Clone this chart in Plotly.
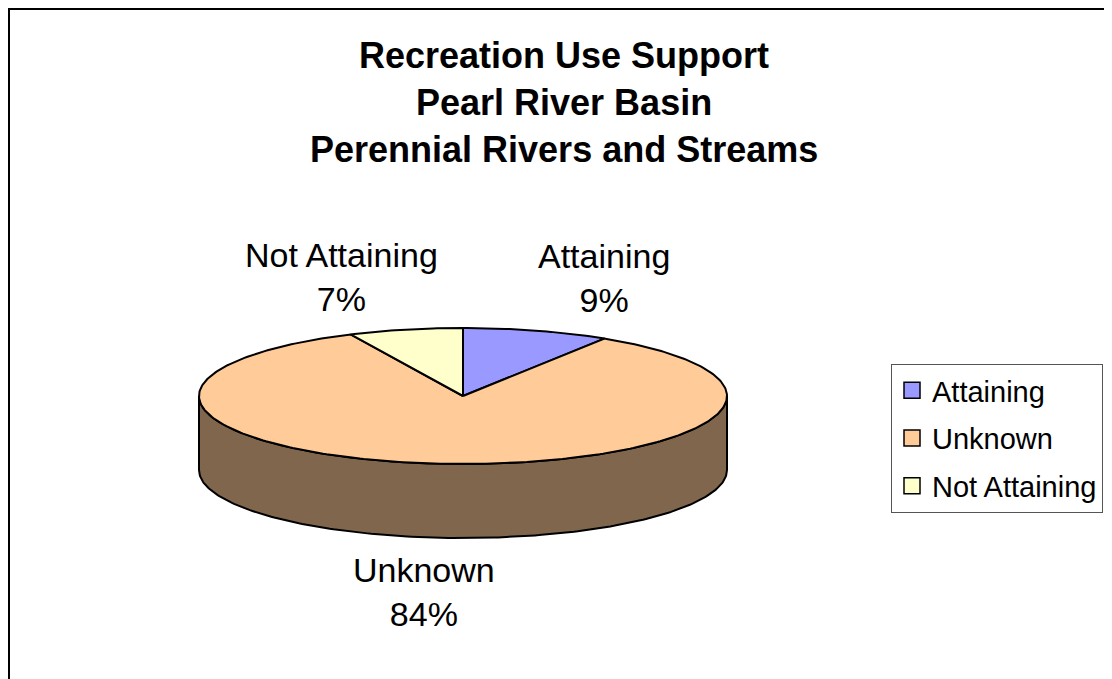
import numpy as np
import plotly.graph_objects as go

# ---- data ----
categories = ["Attaining", "Unknown", "Not Attaining"]
values = [9, 84, 7]
colors = ["#9999FF", "#FFCC99", "#FFFFCC"]
title_lines = ["Recreation Use Support", "Pearl River Basin", "Perennial Rivers and Streams"]

# ---- geometry / style (pixel-unit axes; page body has an 8px margin) ----
W, H = 1112, 679
OFF = 8
CX, CY, RX, RY, DEPTH = 463, 396, 264, 68, 74
FONT = "Liberation Sans, Arial, sans-serif"


def darken(hexcol, f=0.5):
    h = hexcol.lstrip("#")
    r, g, b = (int(h[i:i + 2], 16) for i in (0, 2, 4))
    return "rgb({},{},{})".format(int(r * f), int(g * f), int(b * f))


def arc(t0, t1, n=None):
    if n is None:
        n = max(8, int(abs(t1 - t0) / (2 * np.pi) * 400))
    t = np.linspace(t0, t1, n)
    return CX + RX * np.sin(t), CY - RY * np.cos(t)


vals = np.array(values, dtype=float)
frac = vals / vals.sum()
ends = np.cumsum(frac) * 2 * np.pi
starts = ends - frac * 2 * np.pi

fig = go.Figure()

# side walls (front half only)
for i, cat in enumerate(categories):
    lo = max(starts[i], np.pi / 2)
    hi = min(ends[i], 3 * np.pi / 2)
    if lo < hi:
        xt, yt = arc(lo, hi)
        xs = np.concatenate([xt, xt[::-1], xt[:1]])
        ys = np.concatenate([yt, (yt + DEPTH)[::-1], yt[:1]])
        fig.add_trace(go.Scatter(x=xs, y=ys, mode="lines", fill="toself",
                                 fillcolor=darken(colors[i]),
                                 line=dict(color="black", width=2),
                                 hoverinfo="skip", showlegend=False))

# top faces
for i, cat in enumerate(categories):
    xt, yt = arc(starts[i], ends[i])
    xs = np.concatenate([[CX], xt, [CX]])
    ys = np.concatenate([[CY], yt, [CY]])
    fig.add_trace(go.Scatter(x=xs, y=ys, mode="lines", fill="toself",
                             fillcolor=colors[i],
                             line=dict(color="black", width=2),
                             hoverinfo="skip", showlegend=False,
                             name=cat))

# legend entries
for i, cat in enumerate(categories):
    fig.add_trace(go.Scatter(x=[None], y=[None], mode="markers", name=cat,
                             legendgroup=cat,
                             marker=dict(symbol="square", size=16, color=colors[i],
                                         line=dict(color="black", width=1.5))))

# data labels
annotations = []
for i, cat in enumerate(categories):
    mid = (starts[i] + ends[i]) / 2
    lx = CX - 6 + 2.0 * RX * np.sin(mid)
    ly = CY - 1.8 * RY * np.cos(mid)
    if np.cos(mid) < 0:
        ly += DEPTH
    pct = int(round(frac[i] * 100))
    annotations.append(dict(x=lx, y=ly, xref="x", yref="y",
                            text="{}<br>{}%".format(cat, pct), showarrow=False,
                            font=dict(family=FONT, size=34, color="black"),
                            xanchor="center", yanchor="middle"))

# title lines
for j, line in enumerate(title_lines):
    annotations.append(dict(x=564, y=55 + j * 47, xref="x", yref="y",
                            text="<b>{}</b>".format(line), showarrow=False,
                            font=dict(family=FONT, size=36, color="black"),
                            xanchor="center", yanchor="middle"))

FW, FH = W - OFF, H - OFF
fig.update_layout(
    width=FW, height=FH,
    margin=dict(l=0, r=0, t=0, b=0),
    paper_bgcolor="white", plot_bgcolor="white",
    xaxis=dict(range=[OFF, W], visible=False, fixedrange=True),
    yaxis=dict(range=[H, OFF], visible=False, fixedrange=True),
    annotations=annotations,
    shapes=[dict(type="rect", xref="paper", yref="paper",
                 x0=1.0 / FW, y0=1 - 1.0 / FH, x1=1.2, y1=-0.2,
                 line=dict(color="black", width=2), fillcolor="rgba(0,0,0,0)",
                 layer="above")],
    legend=dict(x=(891 - OFF) / FW, y=1 - (364 - OFF) / FH, xanchor="left", yanchor="top",
                font=dict(family=FONT, size=29, color="black"),
                bordercolor="#555555", borderwidth=1, bgcolor="white",
                tracegroupgap=7, itemwidth=30, traceorder="grouped"),
    showlegend=True,
)

fig.write_html("out.html")
